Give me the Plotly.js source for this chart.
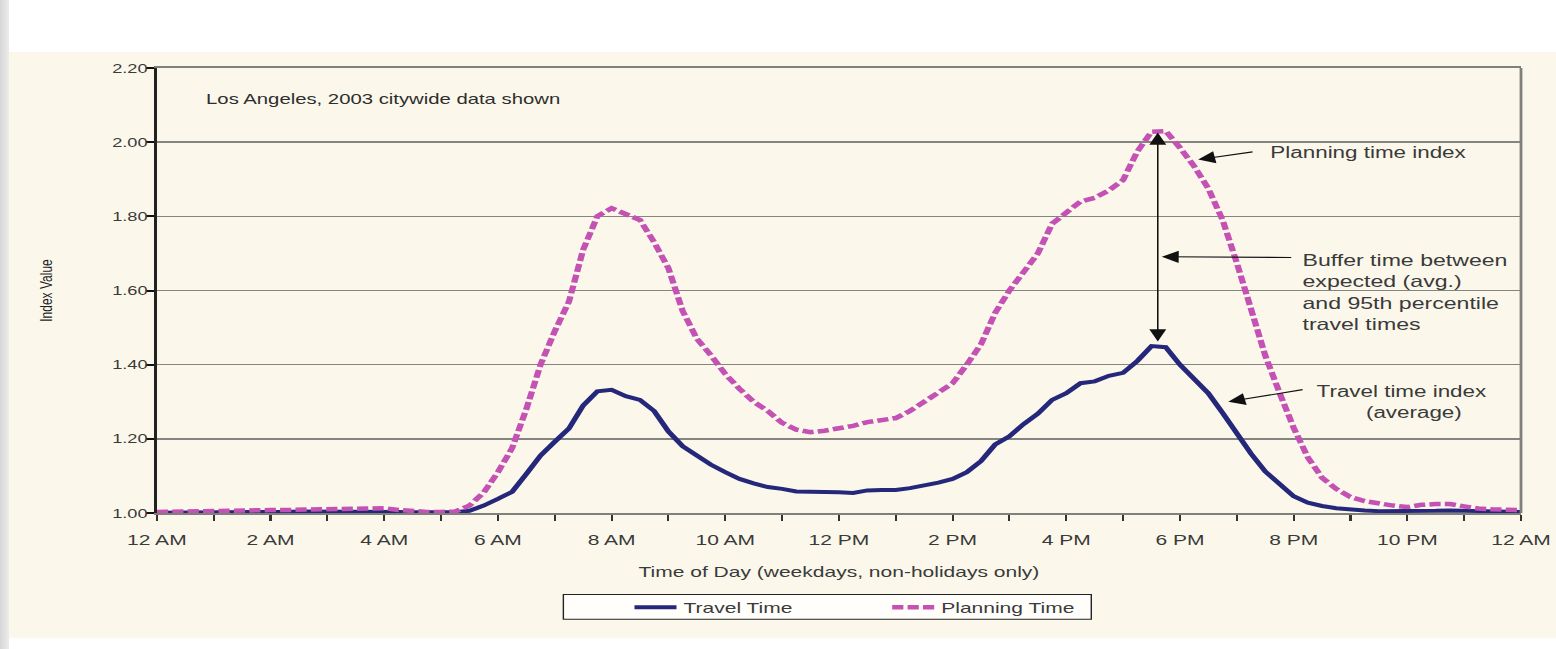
<!DOCTYPE html>
<html><head><meta charset="utf-8">
<script src="https://cdn.plot.ly/plotly-3.0.1.min.js"></script>
<style>
html,body{margin:0;padding:0;background:#ffffff;width:1556px;height:649px;overflow:hidden;}
#strip{position:absolute;left:0;top:0;width:9px;height:649px;background:linear-gradient(to right,#d6d6d6,#ececec);}
#cream{position:absolute;left:9px;top:52px;width:1547px;height:586px;background:#fbf8eb;}
#chart{position:absolute;left:0;top:0;width:1111px;height:649px;transform:scaleX(1.40054);transform-origin:0 0;}
</style></head>
<body>
<div id="strip"></div><div id="cream"></div><div id="chart"></div>
<script>
// Hours of the day (0 = 12 AM ... 24 = 12 AM next day)
const times = [0,0.25,0.5,0.75,1,1.25,1.5,1.75,2,2.25,2.5,2.75,3,3.25,3.5,3.75,4,4.25,4.5,4.75,5,5.25,5.5,5.75,6,6.25,6.5,6.75,7,7.25,7.5,7.75,8,8.25,8.5,8.75,9,9.25,9.5,9.75,10,10.25,10.5,10.75,11,11.25,11.5,11.75,12,12.25,12.5,12.75,13,13.25,13.5,13.75,14,14.25,14.5,14.75,15,15.25,15.5,15.75,16,16.25,16.5,16.75,17,17.25,17.5,17.75,18,18.25,18.5,18.75,19,19.25,19.5,19.75,20,20.25,20.5,20.75,21,21.25,21.5,21.75,22,22.25,22.5,22.75,23,23.25,23.5,23.75,24];

const travelTime = [1.001,1.001,1.002,1.002,1.002,1.002,1.003,1.003,1.003,1.003,1.004,1.004,1.005,1.005,1.005,1.005,1.005,1.003,1.002,1.002,1.002,1.002,1.006,1.020,1.038,1.057,1.105,1.155,1.192,1.228,1.290,1.328,1.332,1.315,1.305,1.275,1.220,1.180,1.155,1.130,1.110,1.092,1.080,1.070,1.065,1.058,1.057,1.057,1.056,1.054,1.061,1.062,1.062,1.067,1.074,1.082,1.092,1.110,1.140,1.185,1.207,1.240,1.268,1.305,1.323,1.350,1.355,1.370,1.378,1.410,1.450,1.447,1.400,1.360,1.323,1.270,1.215,1.160,1.112,1.077,1.045,1.028,1.019,1.013,1.009,1.007,1.005,1.005,1.004,1.005,1.006,1.007,1.006,1.004,1.003,1.003,1.003];

const planningTime = [1.003,1.004,1.005,1.005,1.006,1.006,1.007,1.008,1.008,1.008,1.009,1.010,1.012,1.012,1.011,1.012,1.013,1.008,1.004,1.003,1.003,1.004,1.020,1.055,1.110,1.175,1.280,1.400,1.490,1.570,1.710,1.800,1.822,1.806,1.790,1.730,1.660,1.545,1.470,1.425,1.375,1.335,1.300,1.275,1.243,1.225,1.218,1.222,1.228,1.235,1.245,1.252,1.256,1.275,1.300,1.325,1.350,1.400,1.455,1.540,1.600,1.650,1.700,1.780,1.810,1.840,1.850,1.870,1.898,1.975,2.028,2.030,1.985,1.935,1.875,1.790,1.675,1.550,1.425,1.325,1.230,1.150,1.095,1.065,1.043,1.032,1.025,1.020,1.016,1.022,1.024,1.024,1.018,1.012,1.010,1.009,1.008];

const seriesNames = ['Travel Time','Planning Time'];
const tickHours = [0,1,2,3,4,5,6,7,8,9,10,11,12,13,14,15,16,17,18,19,20,21,22,23,24];
const tickLabels = ['12 AM','','2 AM','','4 AM','','6 AM','','8 AM','','10 AM','','12 PM','','2 PM','','4 PM','','6 PM','','8 PM','','10 PM','','12 AM'];
const yTickVals = [1.0,1.2,1.4,1.6,1.8,2.0,2.2];
const yTickLabels = ['1.00','1.20','1.40','1.60','1.80','2.00','2.20'];

const FONT = 'Liberation Sans, Arial, Helvetica, sans-serif';
const TXT = '#3a3a3a';

const traces = [
  {x: times, y: travelTime, name: seriesNames[0], type: 'scatter', mode: 'lines',
   line: {color: '#25287a', width: 4}},
  {x: times, y: planningTime, name: seriesNames[1], type: 'scatter', mode: 'lines',
   line: {color: '#c451b4', width: 4.5, dash: '8px,3px'}}
];

const arrowStyle = {text: ' ', font: {size: 1}, borderpad: 0, showarrow: true, axref: 'x', ayref: 'y',
  arrowhead: 2, arrowsize: 2.2, arrowwidth: 1.1, arrowcolor: '#111'};

const layout = {
  width: 1111, height: 649,
  margin: {l: 112, r: 25, t: 68, b: 136},
  paper_bgcolor: 'rgba(0,0,0,0)', plot_bgcolor: 'rgba(0,0,0,0)',
  font: {family: FONT, color: TXT, size: 15},
  showlegend: true,
  legend: {orientation: 'h', x: 0.345, y: -0.175, xanchor: 'left', yanchor: 'top',
    bgcolor: 'rgba(0,0,0,0)', borderwidth: 0, font: {size: 15, color: TXT},
    entrywidth: 139, entrywidthmode: 'pixels'},
  xaxis: {range: [0, 24], tickmode: 'array', tickvals: tickHours, ticktext: tickLabels,
    ticks: 'outside', ticklen: 6, tickwidth: 1.5, tickcolor: '#333',
    showgrid: false, zeroline: false, showline: true, mirror: true, linecolor: '#80807a', linewidth: 2,
    tickfont: {size: 15, color: TXT}, ticklabelstandoff: 6,
    title: {text: 'Time of Day (weekdays, non-holidays only)', font: {size: 15, color: TXT}, standoff: 20},
    automargin: false, fixedrange: true},
  yaxis: {range: [1.0, 2.2], tickmode: 'array', tickvals: yTickVals, ticktext: yTickLabels,
    ticks: 'outside', ticklen: 6, tickwidth: 2, tickcolor: '#111',
    showgrid: true, gridcolor: '#85857f', gridwidth: 1.5, zeroline: false,
    showline: true, linecolor: '#222', linewidth: 2,
    tickfont: {size: 13, color: TXT}, ticklabelstandoff: -4,
    title: {text: 'Index Value', font: {size: 12, color: '#1e1e1e'}, standoff: 40},
    automargin: false, fixedrange: true},
  shapes: [
    {type: 'line', xref: 'paper', yref: 'y', x0: 0, x1: 1, y0: yTickVals[1], y1: yTickVals[1],
     line: {color: '#2a2a2a', width: 1.5}, layer: 'below'},
    {type: 'line', xref: 'paper', yref: 'paper', x0: 1, x1: 1, y0: 0, y1: 1,
     line: {color: '#80807a', width: 2}},
    {type: 'rect', xref: 'paper', yref: 'paper', x0: 0.298, x1: 0.685, y0: -0.183, y1: -0.239,
     fillcolor: '#fffefa', line: {color: '#222', width: 1}, layer: 'below'}
  ],
  annotations: [
    {xref: 'paper', yref: 'y', x: 0.0337, y: 2.117, xanchor: 'left', yanchor: 'middle', showarrow: false,
     text: 'Los Angeles, 2003 citywide data shown', font: {size: 14.5, color: '#2e2e2e'}},
    {xref: 'x', yref: 'y', x: 19.53, y: 1.972, xanchor: 'left', yanchor: 'middle', showarrow: false,
     text: 'Planning time index', font: {size: 16, color: TXT}},
    Object.assign({xref: 'x', yref: 'y', x: 18.32, y: 1.953, ax: 19.29, ay: 1.974}, arrowStyle),
    {xref: 'x', yref: 'y', x: 20.1, y: 1.597, xanchor: 'left', yanchor: 'middle', align: 'left', showarrow: false,
     text: 'Buffer time between<br>expected (avg.)<br>and 95th percentile<br>travel times', font: {size: 16.5, color: TXT}},
    Object.assign({xref: 'x', yref: 'y', x: 17.68, y: 1.691, ax: 19.97, ay: 1.689}, arrowStyle),
    Object.assign({xref: 'x', yref: 'y', x: 17.61, y: 2.026, ax: 17.61, ay: 1.46,
      arrowside: 'end+start', startarrowhead: 2, startarrowsize: 2.2}, arrowStyle),
    {xref: 'x', yref: 'y', x: 21.89, y: 1.299, xanchor: 'center', yanchor: 'middle', align: 'center', showarrow: false,
     text: 'Travel time index<br>    (average)', font: {size: 16, color: TXT}},
    Object.assign({xref: 'x', yref: 'y', x: 18.85, y: 1.30, ax: 20.17, ay: 1.333}, arrowStyle)
  ]
};

Plotly.newPlot('chart', traces, layout, {staticPlot: true, displayModeBar: false});
</script>
</body></html>
